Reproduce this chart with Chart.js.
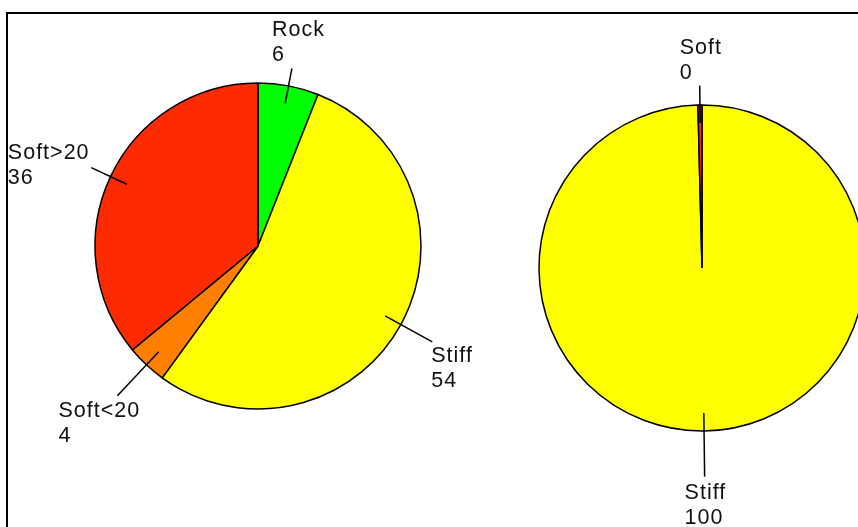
<!DOCTYPE html>
<html>
<head>
<meta charset="utf-8">
<title>Pies</title>
<script src="https://cdn.jsdelivr.net/npm/chart.js@4.4.1/dist/chart.umd.min.js"></script>
<style>
  body{ margin:0; width:858px; height:527px; overflow:hidden; background:#fff; position:relative; }
  #frame{ position:absolute; left:6px; top:12px; width:900px; height:600px; border-left:2px solid #000; border-top:2px solid #000; }
  .box{ position:absolute; top:0; height:527px; }
  #leftBox{ left:0; width:480px; }
  #rightBox{ left:480px; width:400px; }
</style>
</head>
<body>
<div id="frame"></div>
<div class="box" id="leftBox"><canvas id="leftPie"></canvas></div>
<div class="box" id="rightBox"><canvas id="rightPie"></canvas></div>

<script>
// data
const leftLabels = ['Rock', 'Stiff', 'Soft<20', 'Soft>20'];
const leftValues = [6, 54, 4, 36];
const leftColors = ['#00ff00', '#ffff00', '#ff8000', '#ff2b00'];

const rightLabels = ['Stiff', 'Soft'];
const rightValues = [99.6, 0.4];
const rightColors = ['#ffff00', '#ff2b00'];

// leader lines + two-line labels (name, rounded value)
const calloutPlugin = {
  id: 'callouts',
  afterDraw(chart, args, opts) {
    const ctx = chart.ctx;
    const meta = chart.getDatasetMeta(0);
    const ds = chart.data.datasets[0];
    ctx.save();
    ctx.strokeStyle = '#000';
    ctx.lineWidth = 1.5;
    ctx.fillStyle = '#111';
    ctx.font = '21.5px "Liberation Sans", Arial, sans-serif';
    ctx.letterSpacing = '1px';
    ctx.textAlign = 'left';
    ctx.textBaseline = 'alphabetic';
    meta.data.forEach((arc, i) => {
      const c = opts.place[i];
      const mid = (arc.startAngle + arc.endAngle) / 2;
      const r = arc.outerRadius;
      const ix = arc.x + Math.cos(mid) * r * 0.89;
      const iy = arc.y + Math.sin(mid) * r * 0.89;
      const ox = arc.x + Math.cos(mid) * r * c.k;
      const oy = arc.y + Math.sin(mid) * r * c.k;
      ctx.beginPath();
      ctx.moveTo(ix, iy);
      ctx.lineTo(ox, oy);
      ctx.stroke();
      ctx.fillText(chart.data.labels[i], ox + c.dx, oy + c.dy);
      ctx.fillText(String(Math.round(ds.data[i])), ox + c.dx, oy + c.dy + 25);
    });
    ctx.restore();
  }
};

function makePie(id, labels, values, colors, padding, place) {
  return new Chart(document.getElementById(id), {
    type: 'pie',
    data: {
      labels: labels,
      datasets: [{
        data: values,
        backgroundColor: colors,
        borderColor: '#000',
        borderWidth: 1.5,
        hoverOffset: 0
      }]
    },
    options: {
      responsive: true,
      maintainAspectRatio: false,
      animation: false,
      events: [],
      layout: { padding: padding },
      plugins: {
        legend: { display: false },
        tooltip: { enabled: false },
        callouts: { place: place }
      }
    },
    plugins: [calloutPlugin]
  });
}

makePie('leftPie', leftLabels, leftValues, leftColors,
  { left: 94.25, right: 58.25, top: 82.25, bottom: 117.25 },
  [
    { k: 1.11, dx: -20, dy: -32 },
    { k: 1.22, dx: -1, dy: 20 },
    { k: 1.26, dx: -59, dy: 21 },
    { k: 1.13, dx: -83.5, dy: -9 }
  ]);

makePie('rightPie', rightLabels, rightValues, rightColors,
  { left: 58.25, right: 14.25, top: 104.25, bottom: 95.25 },
  [
    { k: 1.28, dx: -20, dy: 22 },
    { k: 1.12, dx: -20, dy: -31 }
  ]);
</script>
</body>
</html>
